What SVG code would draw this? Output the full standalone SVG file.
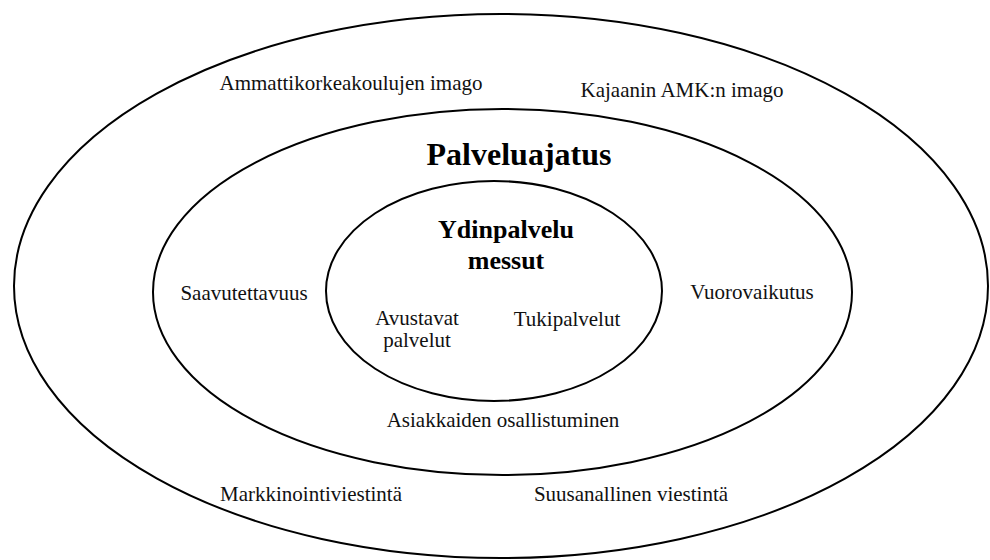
<svg xmlns="http://www.w3.org/2000/svg" width="990" height="560" viewBox="0 0 990 560">
  <style>
    .ring { fill: none; stroke: #000; stroke-width: 2; }
    text { font-family: 'Liberation Serif', 'Times New Roman', 'DejaVu Serif', serif; }
    .lbl { font-size: 21px; fill: #111; text-anchor: middle; }
    .head { font-weight: bold; fill: #000; text-anchor: middle; }
  </style>
  <rect width="990" height="560" fill="#fff"/>

  <!-- Outer ring: image -->
  <g id="imago">
    <ellipse class="ring" cx="501" cy="286" rx="487" ry="272"/>
    <text class="lbl" x="351" y="90" font-family="Liberation Serif, serif">Ammattikorkeakoulujen imago</text>
    <text class="lbl" x="682" y="97" font-family="Liberation Serif, serif">Kajaanin AMK:n imago</text>
    <text class="lbl" x="311" y="501" font-family="Liberation Serif, serif">Markkinointiviestintä</text>
    <text class="lbl" x="631" y="501" font-family="Liberation Serif, serif">Suusanallinen viestintä</text>
  </g>

  <!-- Middle ring: service concept -->
  <g id="palveluajatus">
    <ellipse class="ring" cx="502.5" cy="292" rx="349.5" ry="183"/>
    <text class="head" x="519" y="165" font-size="32" font-family="Liberation Serif, serif">Palveluajatus</text>
    <text class="lbl" x="244" y="300" font-family="Liberation Serif, serif">Saavutettavuus</text>
    <text class="lbl" x="752" y="299" font-family="Liberation Serif, serif">Vuorovaikutus</text>
    <text class="lbl" x="503" y="427" font-family="Liberation Serif, serif">Asiakkaiden osallistuminen</text>
  </g>

  <!-- Inner ring: core service -->
  <g id="ydinpalvelu">
    <ellipse class="ring" cx="494" cy="291" rx="168" ry="110"/>
    <text class="head" x="506" y="238" font-size="26" font-family="Liberation Serif, serif">Ydinpalvelu</text>
    <text class="head" x="506" y="269" font-size="26" font-family="Liberation Serif, serif">messut</text>
    <text class="lbl" x="417" y="325" font-family="Liberation Serif, serif">Avustavat</text>
    <text class="lbl" x="417" y="347" font-family="Liberation Serif, serif">palvelut</text>
    <text class="lbl" x="567" y="326" font-family="Liberation Serif, serif">Tukipalvelut</text>
  </g>

  <g id="connectors"/>
</svg>
